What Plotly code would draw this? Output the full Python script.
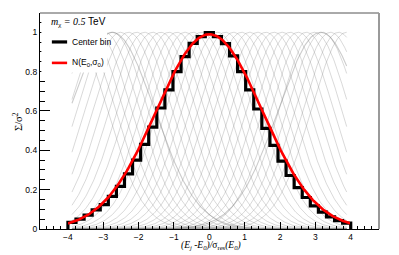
import numpy as np
import plotly.graph_objects as go

# ---------------- data ----------------
n_bins = 35
x_lo, x_hi = -4.0, 4.0
# "Center bin" histogram contents (bin k = -17 ... 17)
center_bin_vals = [0.034, 0.050, 0.071, 0.097, 0.124, 0.166, 0.217, 0.280, 0.350,
                   0.430, 0.518, 0.615, 0.707, 0.800, 0.876, 0.944, 0.978,
                   0.998,
                   0.978, 0.942, 0.880, 0.800, 0.707, 0.610, 0.512, 0.425, 0.345,
                   0.272, 0.210, 0.160, 0.118, 0.086, 0.062, 0.043, 0.030]
# N(E0, sigma0) curve parameters
red_amp = 0.99
red_mu = 0.0
red_sigma = 1.5
# family of per-bin response curves (gray)
gray_sigma = 1.0
highlight_centers = [-2.75, 3.15]
highlight_sigma = 1.2
x_ticks = [-4, -3, -2, -1, 0, 1, 2, 3, 4]
y_ticks = [0, 0.2, 0.4, 0.6, 0.8, 1.0]
y_tick_labels = ["0", "0.2", "0.4", "0.6", "0.8", "1"]

# ---------------- figure ----------------
edges = np.linspace(x_lo, x_hi, n_bins + 1)
centers = 0.5 * (edges[:-1] + edges[1:])

fig = go.Figure()

xg = np.linspace(centers[0], centers[-1], 400)
for c in centers:
    fig.add_trace(go.Scatter(
        x=xg, y=np.exp(-0.5 * ((xg - c) / gray_sigma) ** 2), mode="lines",
        line=dict(color="rgba(150,150,150,0.36)", width=1),
        hoverinfo="skip", showlegend=False))
for c in highlight_centers:
    fig.add_trace(go.Scatter(
        x=xg, y=np.exp(-0.5 * ((xg - c) / highlight_sigma) ** 2), mode="lines",
        line=dict(color="rgba(120,120,120,0.38)", width=1.1),
        hoverinfo="skip", showlegend=False))

xs = np.repeat(edges, 2)
ys = np.concatenate([[0.0], np.repeat(center_bin_vals, 2), [0.0]])
fig.add_trace(go.Scatter(x=xs, y=ys, mode="lines",
                         line=dict(color="black", width=3.2),
                         name="Center bin", showlegend=False))

xr = np.linspace(x_lo, x_hi, 300)
fig.add_trace(go.Scatter(x=xr, y=red_amp * np.exp(-0.5 * ((xr - red_mu) / red_sigma) ** 2),
                         mode="lines", line=dict(color="#ff0000", width=2.6),
                         name="N(E0,s0)", showlegend=False))

tickfont = dict(family="Liberation Sans", size=8.5, color="black")
# the page body adds an 8px offset; the figure is sized so the plot area lands
# at the same place as in the reference
fig.update_layout(
    width=391, height=247,
    margin=dict(l=32, r=20, t=5, b=26),
    paper_bgcolor="white", plot_bgcolor="white",
    xaxis=dict(range=[-4.79, 4.80], tickvals=x_ticks, ticks="inside", ticklen=6.5,
               tickcolor="black", tickwidth=1, showline=True, linecolor="black",
               linewidth=1.3, showgrid=False, zeroline=False, tickfont=tickfont,
               minor=dict(dtick=0.2, tick0=0, ticks="inside", ticklen=3.3,
                          tickcolor="black", showgrid=False)),
    yaxis=dict(range=[0, 1.098], tickvals=y_ticks, ticktext=y_tick_labels,
               ticks="inside", ticklen=10, tickcolor="black", tickwidth=1,
               showline=True, linecolor="black", linewidth=1.3, showgrid=False,
               zeroline=False, tickfont=tickfont,
               minor=dict(dtick=0.05, tick0=0, ticks="inside", ticklen=5,
                          tickcolor="black", showgrid=False)),
)

# frame top / right
fig.add_shape(type="line", xref="paper", yref="paper", x0=0, x1=1, y0=1, y1=1,
              line=dict(color="#555555", width=1))
fig.add_shape(type="line", xref="paper", yref="paper", x0=1, x1=1, y0=0, y1=1,
              line=dict(color="#9a9a9a", width=2))

# legend box (opaque)
fig.add_shape(type="rect", xref="paper", yref="paper", x0=0.004, x1=0.198,
              y0=0.725, y1=0.995, fillcolor="white", line=dict(width=0), layer="above")
fig.add_shape(type="line", xref="paper", yref="paper", x0=0.035, x1=0.080,
              y0=0.866, y1=0.866, line=dict(color="black", width=3.2), layer="above")
fig.add_shape(type="line", xref="paper", yref="paper", x0=0.035, x1=0.080,
              y0=0.769, y1=0.769, line=dict(color="#ff0000", width=2.6), layer="above")

ann = []
ann.append(dict(xref="paper", yref="paper", x=0.088, y=0.866, xanchor="left", yanchor="middle",
                text="Center bin", showarrow=False,
                font=dict(family="Liberation Sans", size=8.5, color="black")))
ann.append(dict(xref="paper", yref="paper", x=0.088, y=0.772, xanchor="left", yanchor="middle",
                text="N(E<sub>0</sub>,σ<sub>0</sub>)", showarrow=False,
                font=dict(family="Liberation Sans", size=8.5, color="black")))
ann.append(dict(xref="paper", yref="paper", x=0.028, y=0.955, xanchor="left", yanchor="middle",
                text="<i>m</i><sub>χ</sub> <i>= 0.5</i> <span style='font-family:Liberation Sans'>TeV</span>",
                showarrow=False,
                font=dict(family="Liberation Serif", size=10, color="black")))
ann.append(dict(xref="paper", yref="paper", x=-0.068, y=0.50, xanchor="center", yanchor="middle",
                text="Σ/σ<sup>2</sup>", textangle=-90, showarrow=False,
                font=dict(family="Liberation Serif", size=10.5, color="black")))
ann.append(dict(xref="paper", yref="paper", x=0.505, y=-0.077, xanchor="center", yanchor="middle",
                text="<i>(E<sub>j</sub> -E<sub>0</sub>)/</i>σ<sub>res</sub><i>(E<sub>0</sub>)</i>",
                showarrow=False,
                font=dict(family="Liberation Serif", size=9.5, color="black")))
fig.update_layout(annotations=ann)

fig.write_html("out.html")
